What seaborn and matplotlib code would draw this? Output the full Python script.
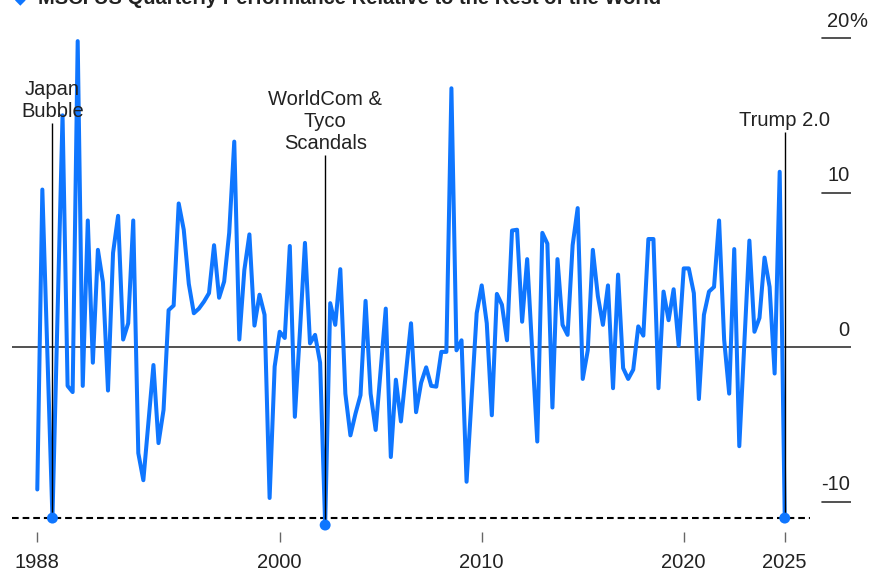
import numpy as np
import pandas as pd
import matplotlib
matplotlib.use("Agg")
import matplotlib.pyplot as plt
import matplotlib.transforms as mtransforms
import seaborn as sns

# Quarterly relative performance (%), MSCI US vs rest of world, from 1988 Q1
start_year = 1988
rel_perf = [
    -9.2, 10.2, -0.4, -11.05, 2.0, 15.0, -2.5, -2.9, 19.8, -2.5,
    8.2, -1.0, 6.3, 4.2, -2.8, 6.1, 8.5, 0.5, 1.55, 8.2,
    -6.85, -8.6, -4.9, -1.15, -6.2, -4.05, 2.4, 2.7, 9.3, 7.6,
    4.1, 2.2, 2.5, 2.95, 3.5, 6.6, 3.2, 4.25, 7.4, 13.3,
    0.5, 5.0, 7.3, 1.4, 3.4, 2.1, -9.75, -1.25, 1.0, 0.6,
    6.55, -4.5, 1.0, 6.75, 0.25, 0.8, -1.0, -11.5, 2.85, 1.45,
    5.05, -3.0, -5.7, -4.3, -3.1, 3.0, -3.0, -5.35, -1.4, 2.5,
    -7.1, -2.1, -4.8, -1.6, 1.55, -4.2, -2.3, -1.3, -2.5, -2.55,
    -0.3, -0.3, 16.75, -0.2, 0.45, -8.7, -3.3, 2.2, 4.0, 1.55,
    -4.4, 3.45, 2.75, 0.45, 7.55, 7.6, 1.65, 5.7, -0.2, -6.1,
    7.4, 6.7, -3.9, 5.7, 1.45, 0.8, 6.6, 9.0, -2.05, -0.2,
    6.3, 3.3, 1.45, 4.0, -2.65, 4.7, -1.35, -2.05, -1.45, 1.35,
    0.75, 7.0, 7.0, -2.65, 3.6, 1.75, 3.75, 0.1, 5.1, 5.1,
    3.5, -3.35, 2.1, 3.6, 3.9, 8.2, 0.5, -3.0, 6.35, -6.4,
    0.25, 6.9, 1.0, 1.9, 5.8, 3.9, -1.7, 11.35, -11.05,
]

year_ticks = [1988, 2000, 2010, 2020, 2025]
y_levels = [20, 10, 0, -10]
y_labels = ["20", "10", "0", "-10"]

event_labels = ["Japan\nBubble", "WorldCom &\nTyco\nScandals", "Trump 2.0"]
event_index = [3, 57, 148]          # quarter index into rel_perf
event_label_top = [14.5, 12.45, 13.9]

title = "MSCI US Quarterly Performance Relative to the Rest of the World"

BLUE = "#0f76ff"
INK = "#222222"

dates = start_year + np.arange(len(rel_perf)) / 4
df = pd.DataFrame({"date": dates, "rel": rel_perf})

sns.set_theme(style="white")
plt.rcParams["font.family"] = ["Liberation Sans", "DejaVu Sans"]

W, H = 869, 572
fig = plt.figure(figsize=(W / 100, H / 100), dpi=100)
ax = fig.add_axes([12 / W, (H - 532) / H, 839 / W, 532 / H])
ax.set_xlim(1986.748, 2028.28)
ax.set_ylim(-11.95, 22.46)
for s in ax.spines.values():
    s.set_visible(False)

# main series
sns.lineplot(data=df, x="date", y="rel", color=BLUE, linewidth=2.9,
             ax=ax, zorder=3)

# zero line and right-hand scale marks
ax.axhline(0, color="#333333", lw=1.2, zorder=2)
short_start = (822 - 12) / 839
for v in y_levels:
    if v != 0:
        ax.axhline(v, xmin=short_start, xmax=1, color="#333333", lw=1.2)
trans = mtransforms.blended_transform_factory(ax.transAxes, ax.transData)
for v, lbl in zip(y_levels, y_labels):
    ax.annotate(lbl, xy=(1, v), xycoords=trans, xytext=(-1, 8.3),
                textcoords="offset points", ha="right", va="baseline",
                fontsize=14.5, color=INK)
    if v == max(y_levels):
        ax.annotate("%", xy=(1, v), xycoords=trans, xytext=(-1, 8.3),
                    textcoords="offset points", ha="left", va="baseline",
                    fontsize=14.5, color=INK)

# current-level reference line
ax.axhline(rel_perf[-1], xmin=0, xmax=(810 - 12) / 839, color="black",
           lw=1.5, linestyle=(0, (3.2, 1.9)), zorder=2)

# event markers
ev_x = [dates[i] for i in event_index]
ev_y = [rel_perf[i] for i in event_index]
ax.vlines(ev_x, ymin=ev_y, ymax=event_label_top, color="black", lw=1.0,
          zorder=4)
for x, top, lbl in zip(ev_x, event_label_top, event_labels):
    ax.annotate(lbl, xy=(x, top), xytext=(0, 1.5), textcoords="offset points",
                ha="center", va="bottom", fontsize=14.5, color=INK,
                linespacing=1.2)
sns.scatterplot(x=ev_x, y=ev_y, color=BLUE, s=62, edgecolor="none",
                ax=ax, zorder=5, clip_on=False, legend=False)

ax.set_xticks(year_ticks)
ax.set_xticklabels([str(y) for y in year_ticks])
ax.set_yticks([])
ax.set_xlabel("")
ax.set_ylabel("")
ax.tick_params(axis="x", bottom=True, direction="out", length=7.5, width=1,
               color="#666666", pad=7.5, labelsize=14.5, labelcolor=INK)

# header line running off the top edge
fig.text(15 / W, 1 - 3.5 / H, "\u25c6", color=BLUE, fontsize=10,
         ha="left", va="baseline", family=["DejaVu Sans"])
fig.text(38 / W, 1 - 3.5 / H, title, color=INK, fontsize=14.5,
         fontweight="bold", ha="left", va="baseline")

fig.savefig("out.png", dpi=100)
